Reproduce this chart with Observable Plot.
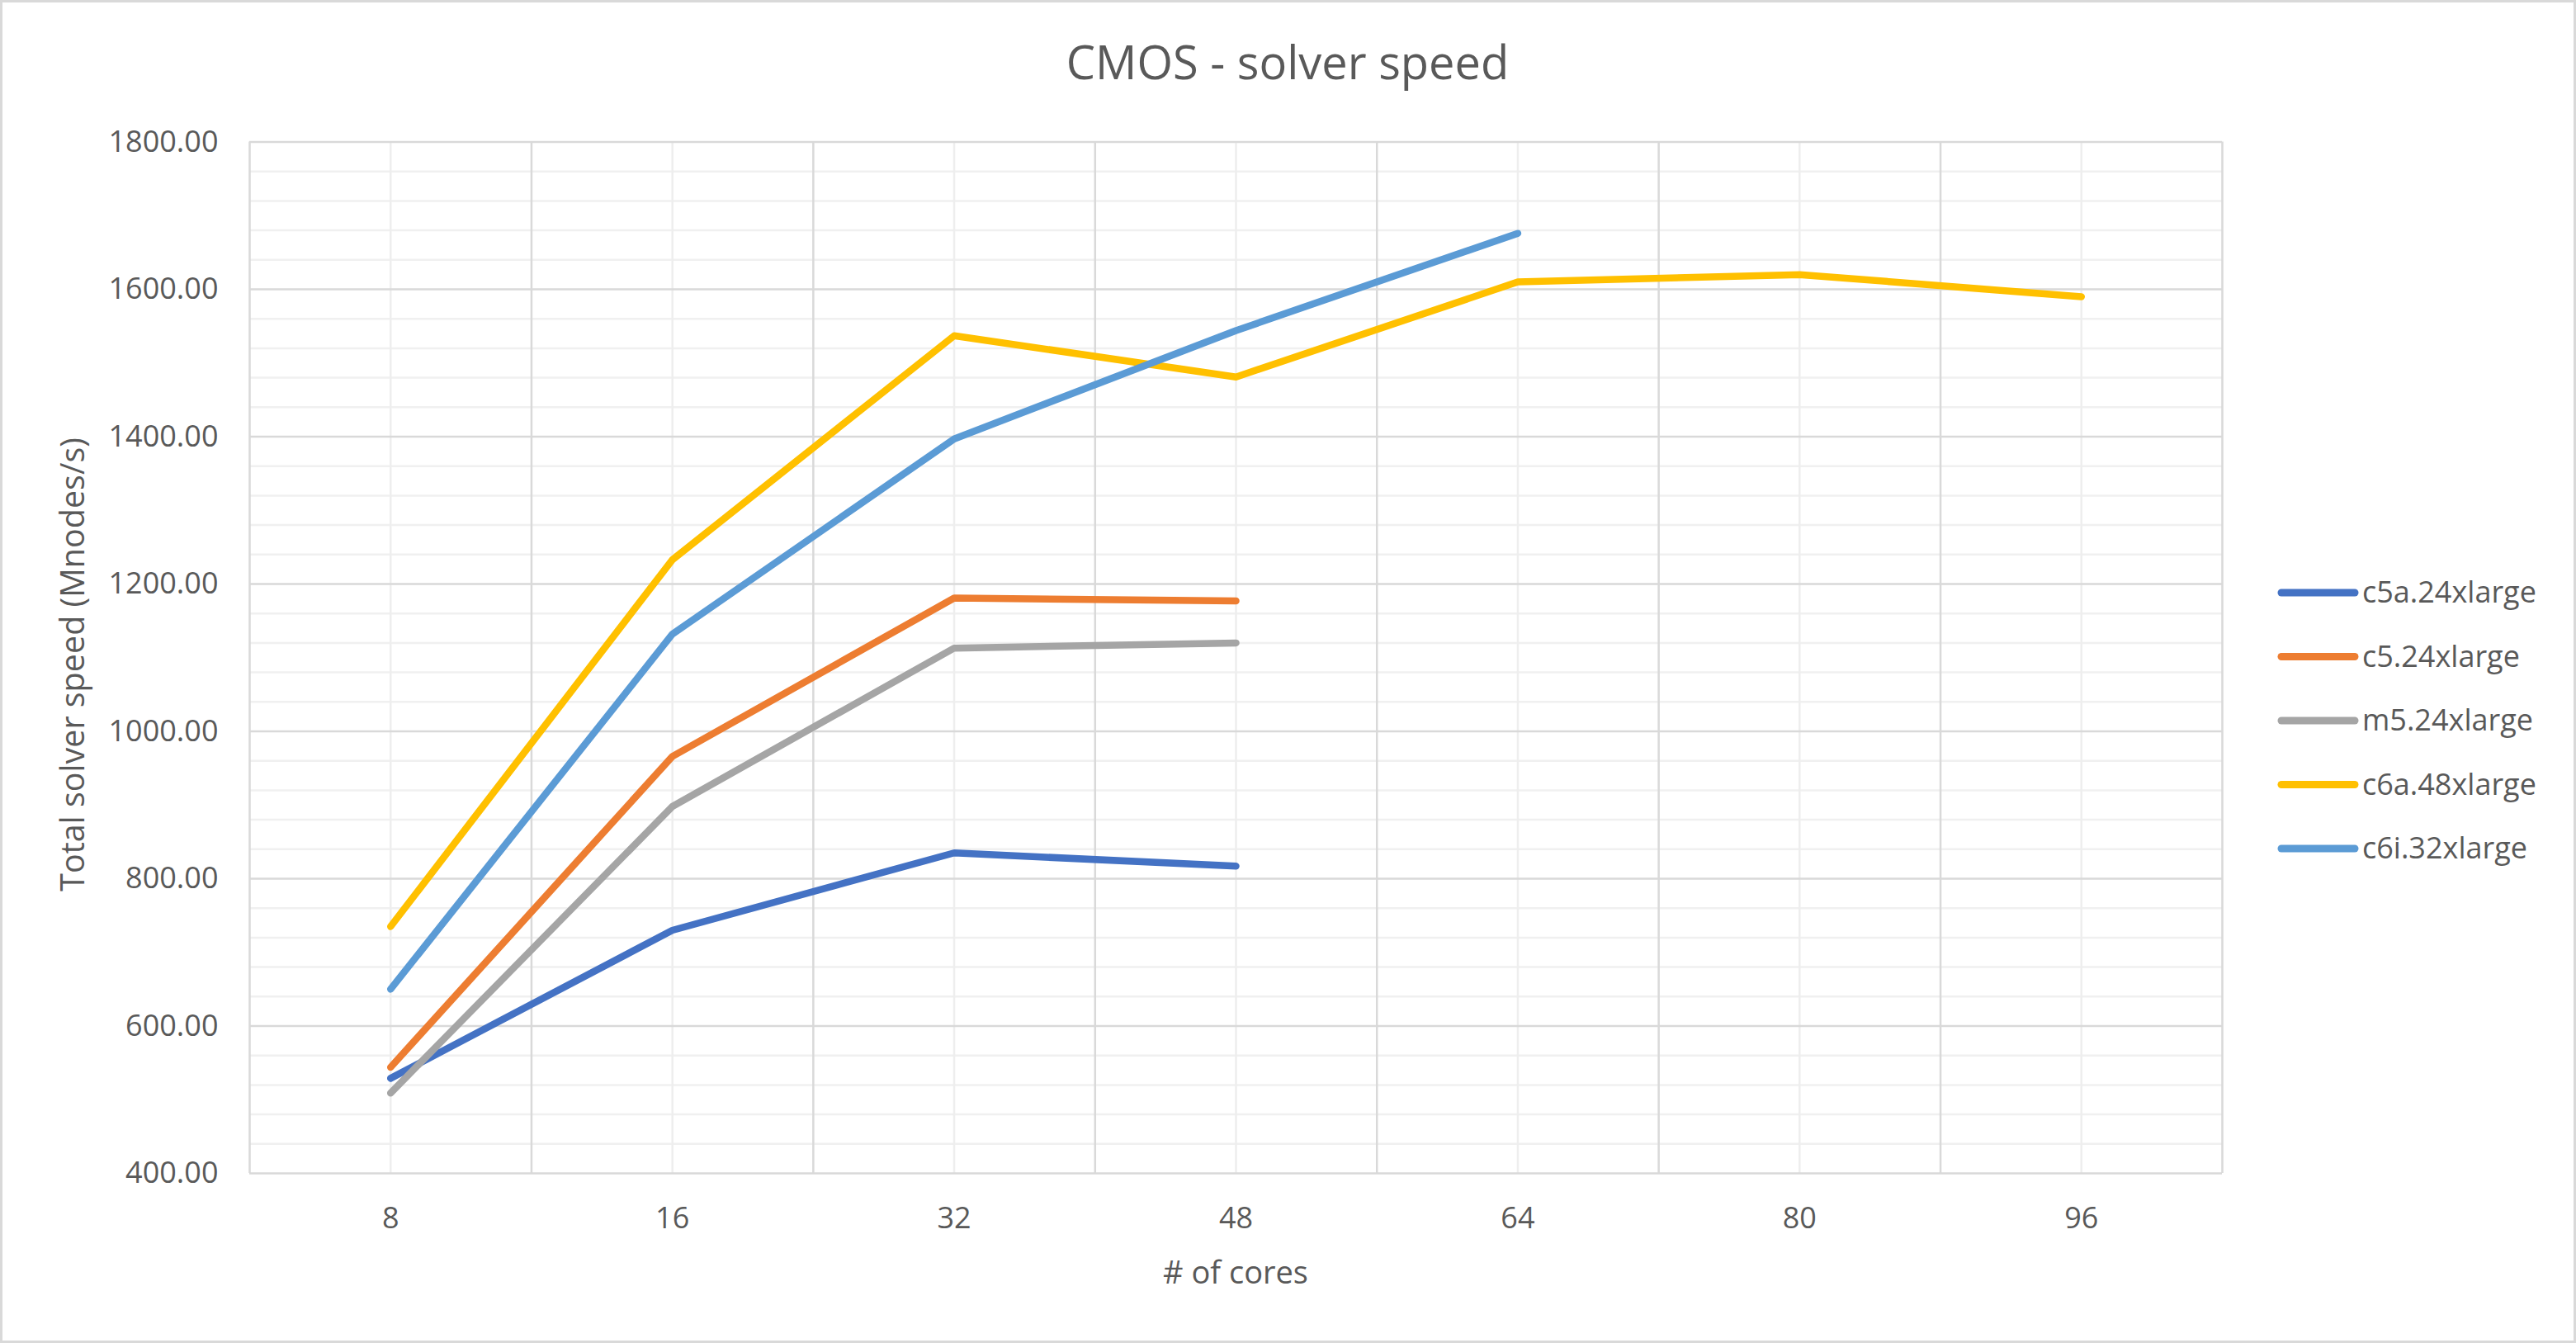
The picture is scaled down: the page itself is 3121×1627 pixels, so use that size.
<!DOCTYPE html>
<html><head><meta charset="utf-8">
<script src="https://cdn.jsdelivr.net/npm/d3@7"></script>
<script src="https://cdn.jsdelivr.net/npm/@observablehq/plot@0.6"></script>
<style>
html,body{margin:0;padding:0;background:#fff;}
#chart{position:relative;width:3121px;height:1627px;overflow:hidden;background:#fff;}
#chart > svg{position:absolute;left:0;top:0;}
#border{position:absolute;left:0;top:0;width:3121px;height:1627px;box-sizing:border-box;border:3px solid #d9d9d9;pointer-events:none;}
</style></head><body><div id="chart"><div id="border"></div></div>
<script>
const cores = [8, 16, 32, 48, 64, 80, 96];
const seriesNames = ["c5a.24xlarge", "c5.24xlarge", "m5.24xlarge", "c6a.48xlarge", "c6i.32xlarge"];
const seriesColors = ["#4472C4", "#ED7D31", "#A5A5A5", "#FFC000", "#5B9BD5"];
const c5a = [529, 730, 835, 817];
const c5 = [544, 966, 1181, 1177];
const m5 = [509, 898, 1113, 1120];
const c6a = [735, 1233, 1537, 1481, 1610, 1620, 1590];
const c6i = [650, 1132, 1397, 1544, 1676];
const yTicks = [400, 600, 800, 1000, 1200, 1400, 1600, 1800];
const yMinorStep = 40;
const titleText = "CMOS - solver speed";
const xTitle = "# of cores";
const yTitle = "Total solver speed (Mnodes/s)";

const allSeries = [c5a, c5, m5, c6a, c6i];
const data = allSeries.flatMap((vals, s) => vals.map((v, i) => ({series: seriesNames[s], i, cores: cores[i], v})));
const idx = d3.range(cores.length);
const bounds = d3.range(cores.length + 1).map(k => k - 0.5);
const yMin = d3.min(yTicks), yMax = d3.max(yTicks);
const minorY = d3.range(yMin, yMax + 1, yMinorStep).filter(v => !yTicks.includes(v));

const W = 3121, H = 1627;
const FONT = "'Open Sans', 'Noto Sans', sans-serif";
const TXT = "#595959";

const plot = Plot.plot({
  width: W, height: H,
  marginLeft: 302, marginRight: 429, marginTop: 171.5, marginBottom: 206,
  style: {fontFamily: FONT, fontSize: "36px", color: TXT, background: "transparent", overflow: "visible"},
  x: {type: "linear", domain: [-0.5, cores.length - 0.5], ticks: idx, tickFormat: i => String(cores[i]), tickSize: 0, tickPadding: 41, label: null},
  y: {domain: [yMin, yMax], ticks: yTicks, tickFormat: d3.format(".2f"), tickSize: 0, tickPadding: 38, label: null},
  color: {domain: seriesNames, range: seriesColors},
  marks: [
    Plot.ruleY(minorY, {stroke: "#f0f0f0", strokeWidth: 2.5}),
    Plot.ruleX(idx, {stroke: "#eeeeee", strokeWidth: 2.5}),
    Plot.ruleY(yTicks, {stroke: "#d9d9d9", strokeWidth: 2.5}),
    Plot.ruleX(bounds, {stroke: "#d9d9d9", strokeWidth: 2.5}),
    Plot.line(data, {x: "i", y: "v", z: "series", stroke: "series", strokeWidth: 8.5, strokeLinecap: "round", strokeLinejoin: "round"})
  ]
});
const chart = document.getElementById("chart");
chart.insertBefore(plot, document.getElementById("border"));

// overlay text: title, axis titles, legend
const ov = d3.create("svg").attr("width", W).attr("height", H)
  .style("font-family", FONT).style("overflow", "visible");
ov.append("text").attr("x", 1560).attr("y", 96).attr("text-anchor", "middle")
  .attr("font-size", 56).attr("fill", TXT).text(titleText);
ov.append("text").attr("x", 1497).attr("y", 1555).attr("text-anchor", "middle")
  .attr("font-size", 38).attr("fill", TXT).text(xTitle);
ov.append("text").attr("transform", "translate(102,805) rotate(-90)").attr("text-anchor", "middle")
  .attr("font-size", 39.5).attr("fill", TXT).text(yTitle);
const leg = ov.append("g");
seriesNames.forEach((name, k) => {
  const cy = 718 + k * 77.5;
  leg.append("line").attr("x1", 2764).attr("x2", 2853).attr("y1", cy).attr("y2", cy)
    .attr("stroke", seriesColors[k]).attr("stroke-width", 9).attr("stroke-linecap", "round");
  leg.append("text").attr("x", 2862).attr("y", cy + 12).attr("font-size", 36).attr("fill", TXT).text(name);
});
chart.insertBefore(ov.node(), document.getElementById("border"));
</script>
</body></html>
